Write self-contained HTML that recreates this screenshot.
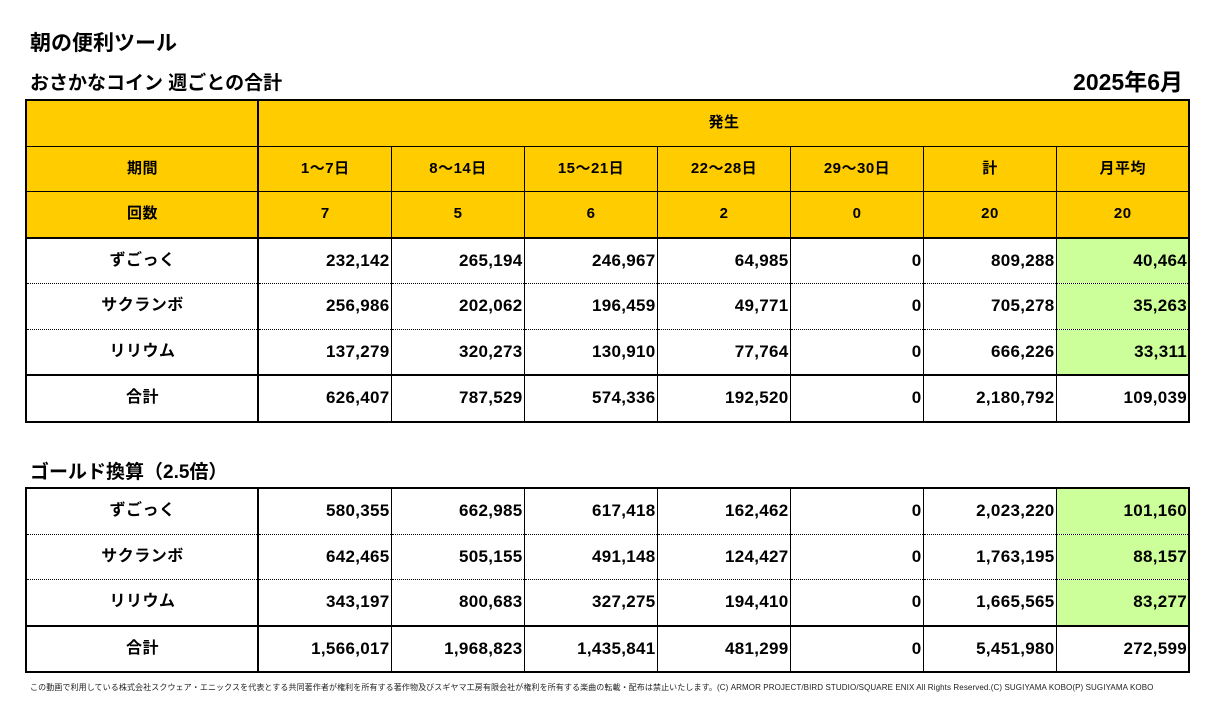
<!DOCTYPE html>
<html><head><meta charset="utf-8"><style>
body{margin:0;width:1214px;height:725px;background:#fff;position:relative;font-family:"Liberation Sans","Noto Sans CJK JP",sans-serif;font-weight:bold;color:#000;overflow:hidden}
.t{position:absolute;white-space:nowrap}
table{position:absolute;left:25px;border-collapse:collapse;table-layout:fixed;width:1164px;border:2px solid #000;font-size:17px;letter-spacing:0.3px}
td{height:44.5px;line-height:18px;padding:0 1px 0 2px;border:1px solid #000;text-align:right;overflow:hidden;white-space:nowrap}
td:first-child{text-align:center;border-right:2px solid #000;font-size:16px;letter-spacing:0.5px}
.h td{background:#ffcc00;text-align:center;font-size:15px;letter-spacing:0.5px}
.d td{border-top:1px dotted #000;border-bottom:1px dotted #000}
.s td{border-top:2px solid #000}
.g{background:#ccff99}
</style></head><body>
<div class="t" style="left:30px;top:27px;font-size:21px">朝の便利ツール</div>
<div class="t" style="left:30px;top:68px;font-size:19px">おさかなコイン 週ごとの合計</div>
<div class="t" style="right:31px;top:63px;font-size:23px">2025年6月</div>
<table style="top:99px">
<colgroup><col style="width:232px"><col span="7" style="width:133px"></colgroup>
<tr class="h"><td></td><td colspan="7">発生</td></tr>
<tr class="h"><td>期間</td><td>1～7日</td><td>8～14日</td><td>15～21日</td><td>22～28日</td><td>29～30日</td><td>計</td><td>月平均</td></tr>
<tr class="h"><td>回数</td><td>7</td><td>5</td><td>6</td><td>2</td><td>0</td><td>20</td><td>20</td></tr>
<tr class="d s"><td>ずごっく</td><td>232,142</td><td>265,194</td><td>246,967</td><td>64,985</td><td>0</td><td>809,288</td><td class="g">40,464</td></tr>
<tr class="d"><td>サクランボ</td><td>256,986</td><td>202,062</td><td>196,459</td><td>49,771</td><td>0</td><td>705,278</td><td class="g">35,263</td></tr>
<tr class="d"><td>リリウム</td><td>137,279</td><td>320,273</td><td>130,910</td><td>77,764</td><td>0</td><td>666,226</td><td class="g">33,311</td></tr>
<tr class="s"><td>合計</td><td>626,407</td><td>787,529</td><td>574,336</td><td>192,520</td><td>0</td><td>2,180,792</td><td>109,039</td></tr>
</table>
<div class="t" style="left:30px;top:457px;font-size:19px">ゴールド換算（2.5倍）</div>
<table style="top:487px">
<colgroup><col style="width:232px"><col span="7" style="width:133px"></colgroup>
<tr class="d"><td>ずごっく</td><td>580,355</td><td>662,985</td><td>617,418</td><td>162,462</td><td>0</td><td>2,023,220</td><td class="g">101,160</td></tr>
<tr class="d"><td>サクランボ</td><td>642,465</td><td>505,155</td><td>491,148</td><td>124,427</td><td>0</td><td>1,763,195</td><td class="g">88,157</td></tr>
<tr class="d"><td>リリウム</td><td>343,197</td><td>800,683</td><td>327,275</td><td>194,410</td><td>0</td><td>1,665,565</td><td class="g">83,277</td></tr>
<tr class="s"><td>合計</td><td>1,566,017</td><td>1,968,823</td><td>1,435,841</td><td>481,299</td><td>0</td><td>5,451,980</td><td>272,599</td></tr>
</table>
<div class="t" style="left:30px;top:682px;font-size:8px;font-weight:normal;color:#222;letter-spacing:0.1px">この動画で利用している株式会社スクウェア・エニックスを代表とする共同著作者が権利を所有する著作物及びスギヤマ工房有限会社が権利を所有する楽曲の転載・配布は禁止いたします。(C) ARMOR PROJECT/BIRD STUDIO/SQUARE ENIX All Rights Reserved.(C) SUGIYAMA KOBO(P) SUGIYAMA KOBO</div>
</body></html>
